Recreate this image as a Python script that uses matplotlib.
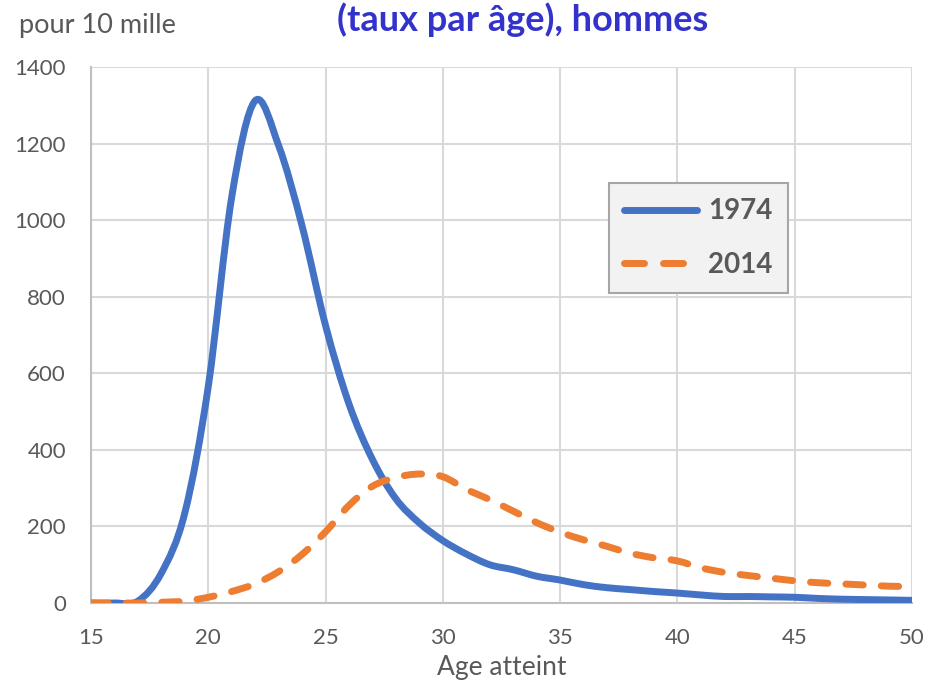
import matplotlib.pyplot as plt
from matplotlib.path import Path
from matplotlib.patches import PathPatch
from matplotlib.lines import Line2D

# ages atteints
ages = list(range(15, 51))

# taux pour 10 mille, hommes
taux_1974 = [0, 0, 5, 78, 235, 565, 1060, 1312, 1195, 985, 725, 520, 375, 272,
             209, 163, 128, 100, 87, 70, 60, 48, 40, 35, 30, 26, 21, 17, 17,
             16, 15, 12, 10, 9, 8, 7]
taux_2014 = [0, 0, 0, 2, 5, 15, 30, 50, 82, 127, 186, 255, 305, 328, 337, 330,
             297, 270, 240, 210, 185, 165, 148, 130, 118, 110, 92, 80, 72, 65,
             58, 53, 50, 47, 44, 43]

series_labels = ['1974', '2014']
series_colors = ['#4472C4', '#ED7D31']

x_ticks = [15, 20, 25, 30, 35, 40, 45, 50]
y_ticks = [0, 200, 400, 600, 800, 1000, 1200, 1400]


def smooth_path(xs, ys):
    # courbe lissée façon Excel (Bezier passant par les points)
    verts = [(xs[0], ys[0])]
    codes = [Path.MOVETO]
    n = len(xs)
    for i in range(n - 1):
        x0, y0 = (xs[i - 1], ys[i - 1]) if i > 0 else (xs[i], ys[i])
        x1, y1 = xs[i], ys[i]
        x2, y2 = xs[i + 1], ys[i + 1]
        x3, y3 = (xs[i + 2], ys[i + 2]) if i + 2 < n else (x2, y2)
        c1 = (x1 + (x2 - x0) / 6, y1 + (y2 - y0) / 6)
        c2 = (x2 - (x3 - x1) / 6, y2 - (y3 - y1) / 6)
        verts += [c1, c2, (x2, y2)]
        codes += [Path.CURVE4] * 3
    return Path(verts, codes)


fig = plt.figure(figsize=(9.3, 6.84), dpi=100)
ax = fig.add_axes([0.0978, 0.1184, 0.8828, 0.7836])

lw = 5
dash = (0, (2.5, 2.6))
ax.add_patch(PathPatch(smooth_path(ages, taux_1974), fill=False,
                       edgecolor=series_colors[0], lw=lw, capstyle='round',
                       joinstyle='round', zorder=3))
ax.add_patch(PathPatch(smooth_path(ages, taux_2014), fill=False,
                       edgecolor=series_colors[1], lw=lw, capstyle='round',
                       joinstyle='round', linestyle=dash, zorder=3))

ax.set_xlim(15, 50)
ax.set_ylim(0, 1400)
ax.set_xticks(x_ticks)
ax.set_yticks(y_ticks)
ax.grid(True, color='#D9D9D9', lw=1.5)
ax.set_axisbelow(True)
for s in ['top', 'right']:
    ax.spines[s].set_visible(False)
for s in ['left', 'bottom']:
    ax.spines[s].set_color('#BFBFBF')
    ax.spines[s].set_linewidth(1.5)
ax.tick_params(length=0, labelsize=16, labelcolor='#595959')
ax.tick_params(axis='y', pad=18)
ax.tick_params(axis='x', pad=18)
for lab in ax.get_xticklabels() + ax.get_yticklabels():
    lab.set_family('Lato')

ax.set_xlabel('Age atteint', fontsize=19, color='#595959', family='Lato',
              labelpad=5)

fig.text(0.02, 1 - 33 / 684, 'pour 10 mille', fontsize=19.5, color='#595959',
         family='Lato')
fig.text(0.562, 1 - 31 / 684, '(taux par âge), hommes', fontsize=26,
         color='#3333CC', family='Lato', weight='bold', ha='center',
         va='baseline')

handles = [Line2D([], [], color=series_colors[0], lw=lw, solid_capstyle='round'),
           Line2D([], [], color=series_colors[1], lw=lw, dash_capstyle='round',
                  linestyle=(0, (2.88, 2.74)))]
leg = ax.legend(handles, series_labels, loc='upper left',
                bbox_to_anchor=(0.631, 0.7836), borderaxespad=0,
                handlelength=2.63, borderpad=0.55, labelspacing=1.0,
                handletextpad=0.4, fancybox=False, framealpha=1,
                prop={'family': 'Lato', 'weight': 'bold', 'size': 20})
leg.get_frame().set_facecolor('#F2F2F2')
leg.get_frame().set_edgecolor('#A6A6A6')
leg.get_frame().set_linewidth(1.5)
for t in leg.get_texts():
    t.set_color('#595959')

fig.savefig('out.png', dpi=100)
